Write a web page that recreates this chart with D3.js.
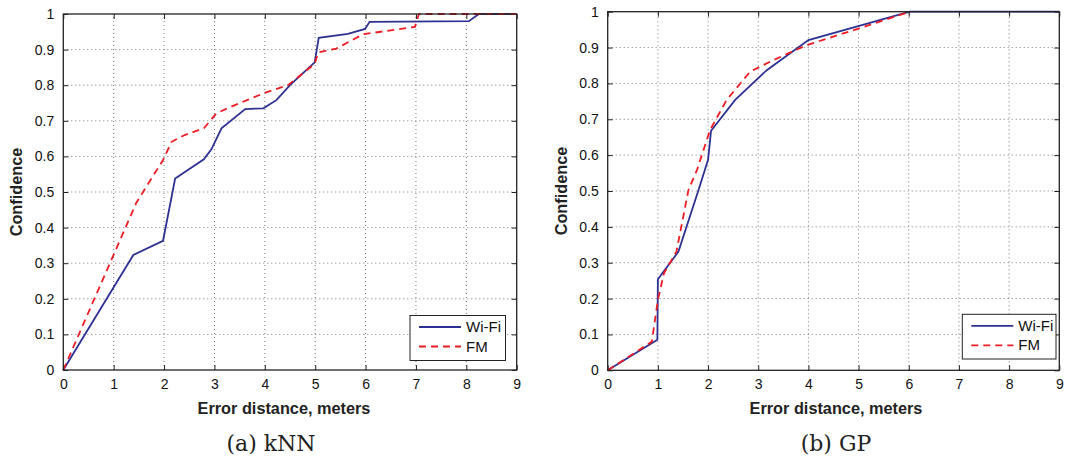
<!DOCTYPE html>
<html><head><meta charset="utf-8">
<script src="https://cdn.jsdelivr.net/npm/d3@7"></script>
<style>body{margin:0;background:#fff}svg{display:block}</style>
</head><body>
<svg id="chart" width="1068" height="457"></svg>
<script>
// ---- data ----
const xTicks = [0,1,2,3,4,5,6,7,8,9];
const yTicks = [0,0.1,0.2,0.3,0.4,0.5,0.6,0.7,0.8,0.9,1];
const yTickLabels = ["0","0.1","0.2","0.3","0.4","0.5","0.6","0.7","0.8","0.9","1"];
const seriesNames = ["Wi-Fi","FM"];
const panelCaptions = ["(a) kNN","(b) GP"];

const knnWifiX = [0,1.39,1.98,2.22,2.79,2.94,3.14,3.61,3.97,4.23,4.5,4.99,5.07,5.65,5.99,6.08,8.05,8.25,9];
const knnWifiY = [0,0.323,0.363,0.538,0.592,0.62,0.679,0.733,0.735,0.758,0.80,0.864,0.933,0.944,0.958,0.978,0.98,1,1];
const knnFmX = [0,1.45,1.98,2.15,2.41,2.79,3.04,3.37,3.97,4.46,4.99,5.06,5.42,5.95,6.98,7.06,9];
const knnFmY = [0,0.47,0.59,0.641,0.66,0.679,0.721,0.742,0.777,0.80,0.86,0.892,0.903,0.943,0.964,1,1];

const gpWifiX = [0,0.99,1.0,1.41,1.81,2.0,2.06,2.54,3.17,4.0,6.02,9];
const gpWifiY = [0,0.085,0.254,0.331,0.503,0.587,0.668,0.754,0.837,0.921,1,1];
const gpFmX = [0,0.88,1.0,1.12,1.37,1.61,1.78,2.04,2.37,2.84,3.3,3.97,5.0,6.02];
const gpFmY = [0,0.08,0.196,0.27,0.331,0.503,0.559,0.67,0.754,0.833,0.865,0.907,0.953,1];

// ---- drawing ----
const svg = d3.select("#chart");
const blue = "#2e3192", red = "#ed1c24";
const tickFont = "'Liberation Sans', Arial, sans-serif";

function panel(box, wifiX, wifiY, fmX, fmY, caption, legendBox, xLabelCx, captionCx) {
  const x = d3.scaleLinear().domain([0,9]).range([box.x0, box.x1]);
  const y = d3.scaleLinear().domain([0,1]).range([box.y0, box.y1]);
  const g = svg.append("g");
  // grid
  g.append("g").selectAll("line").data(xTicks.slice(1,-1)).join("line")
    .attr("x1", d=>x(d)).attr("x2", d=>x(d)).attr("y1", y(0)).attr("y2", y(1))
    .attr("stroke","#777").attr("stroke-width",1).attr("stroke-dasharray","1,3");
  g.append("g").selectAll("line").data(yTicks.slice(1,-1)).join("line")
    .attr("y1", d=>y(d)).attr("y2", d=>y(d)).attr("x1", x(0)).attr("x2", x(9))
    .attr("stroke","#777").attr("stroke-width",1).attr("stroke-dasharray","1,3");
  // axes with inward ticks
  const ax = (gen, tr) => {
    const a = g.append("g").attr("transform", tr).call(gen);
    a.select(".domain").remove();
    a.selectAll("line").attr("stroke","#222");
    a.selectAll("text").attr("font-family", tickFont).attr("font-size", 14).attr("fill","#111");
    return a;
  };
  ax(d3.axisBottom(x).tickValues(xTicks).tickSize(-5).tickPadding(9).tickFormat(d3.format("d")), `translate(0,${y(0)})`);
  ax(d3.axisTop(x).tickValues(xTicks).tickSize(-5).tickFormat(""), `translate(0,${y(1)})`);
  ax(d3.axisLeft(y).tickValues(yTicks).tickSize(-5).tickPadding(9).tickFormat((d,i)=>yTickLabels[i]), `translate(${x(0)},0)`);
  ax(d3.axisRight(y).tickValues(yTicks).tickSize(-5).tickFormat(""), `translate(${x(9)},0)`);
  // lines
  const line = d3.line().x(d=>x(d[0])).y(d=>y(d[1]));
  g.append("path").datum(wifiX.map((v,i)=>[v,wifiY[i]])).attr("d",line)
    .attr("fill","none").attr("stroke",blue).attr("stroke-width",1.8);
  g.append("path").datum(fmX.map((v,i)=>[v,fmY[i]])).attr("d",line)
    .attr("fill","none").attr("stroke",red).attr("stroke-width",1.8).attr("stroke-dasharray","7,5");
  // box
  g.append("rect").attr("x",x(0)).attr("y",y(1)).attr("width",x(9)-x(0)).attr("height",y(0)-y(1))
    .attr("fill","none").attr("stroke","#222").attr("stroke-width",1.3);
  // labels
  g.append("text").attr("x",xLabelCx).attr("y",414).attr("text-anchor","middle")
    .attr("font-family",tickFont).attr("font-weight","bold").attr("font-size",16.3).attr("fill","#222")
    .text("Error distance, meters");
  const cy = (y(0)+y(1))/2;
  g.append("text").attr("transform",`translate(${x(0)-41},${cy}) rotate(-90)`).attr("text-anchor","middle")
    .attr("font-family",tickFont).attr("font-weight","bold").attr("font-size",16.3).attr("fill","#222")
    .text("Confidence");
  g.append("text").attr("x",captionCx).attr("y",451).attr("text-anchor","middle")
    .attr("font-family","'DejaVu Serif', 'Liberation Serif', serif").attr("font-size",22).attr("fill","#222")
    .text(caption);
  // legend
  const lg = g.append("g");
  lg.append("rect").attr("x",legendBox.x).attr("y",legendBox.y).attr("width",legendBox.w).attr("height",legendBox.h)
    .attr("fill","#fff").attr("stroke","#222").attr("stroke-width",1);
  seriesNames.forEach((n,i)=>{
    const ly = legendBox.y + 11.5 + i*19.5;
    lg.append("line").attr("x1",legendBox.x+9).attr("x2",legendBox.x+51).attr("y1",ly).attr("y2",ly)
      .attr("stroke", i===0?blue:red).attr("stroke-width",1.8).attr("stroke-dasharray", i===0?null:"7,5");
    lg.append("text").attr("x",legendBox.x+56).attr("y",ly+5).attr("font-family",tickFont).attr("font-size",15)
      .attr("fill","#111").text(n);
  });
}

panel({x0:63.3,x1:516.7,y0:370,y1:14}, knnWifiX, knnWifiY, knnFmX, knnFmY, panelCaptions[0], {x:410,y:315.5,w:95.5,h:45}, 284, 271);
panel({x0:607.7,x1:1059.3,y0:370.3,y1:11.7}, gpWifiX, gpWifiY, gpFmX, gpFmY, panelCaptions[1], {x:962.3,y:314.3,w:93.7,h:44.7}, 836, 836);
</script>
</body></html>
